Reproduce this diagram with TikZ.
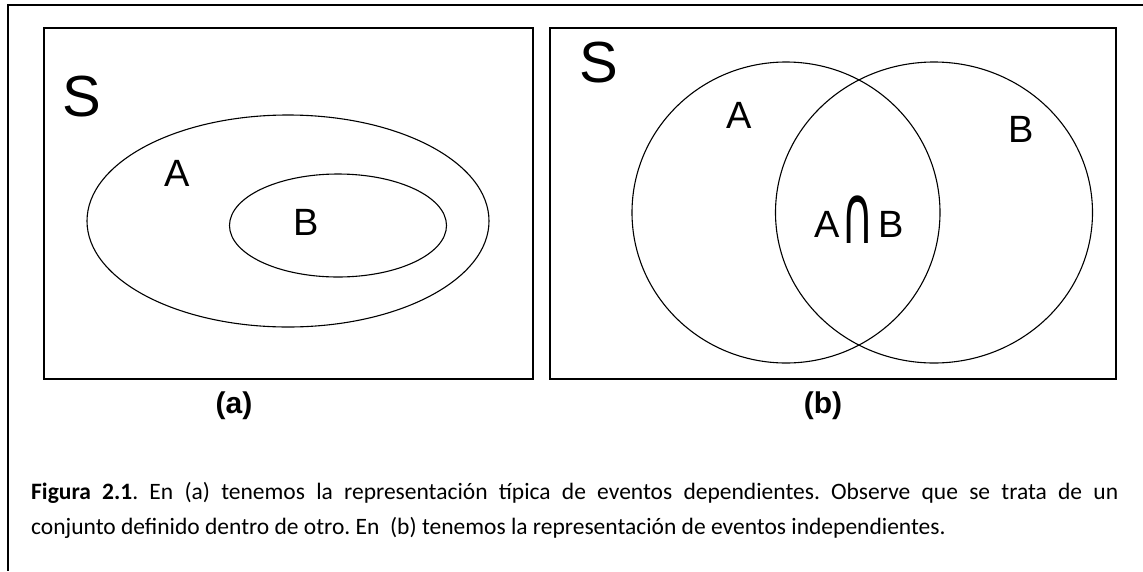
\documentclass[tikz,border=0pt]{standalone}
\usepackage{fontspec}
\usepackage{graphicx}
\setmainfont{Liberation Sans}
\newfontfamily\capfont{Carlito}
\newfontfamily\symfont{DejaVu Sans}
\begin{document}
\begin{tikzpicture}[x=1pt,y=-1pt,
  frame/.style={line width=1.4pt,black},
  setline/.style={line width=1.1pt,black},
  bigS/.style={font=\fontsize{58}{60}\selectfont,inner sep=0},
  setlbl/.style={font=\fontsize{38}{40}\selectfont,inner sep=0},
  sublbl/.style={font=\bfseries\fontsize{30}{32}\selectfont,inner sep=0},
  captext/.style={anchor=north west,inner sep=0,text width=1087pt,align=justify,
     font=\capfont\fontsize{23.5}{35}\selectfont\frenchspacing}]
\useasboundingbox (0,0) rectangle (1143,571);
% outer frame (top and left only)
\coordinate (ftr) at (1143,5);
\coordinate (ftl) at (8,5);
\coordinate (fbl) at (8,571);
\draw[frame] (ftr) -- (ftl) -- (fbl);
% panel (a)
\draw[frame] (44,28) rectangle (533,379);
\node[bigS] (Sa) at (82,97) {S};
\draw[setline] (288,221) ellipse [x radius=201, y radius=106];
\draw[setline] (338,225.5) ellipse [x radius=108.5, y radius=51.5];
\node[setlbl] (Aa) at (177,173) {A};
\node[setlbl] (Ba) at (306,222) {B};
\node[sublbl] (la) at (234,406) {(a)};
% panel (b)
\draw[frame] (550,28) rectangle (1116,379);
\node[bigS] (Sb) at (599,63) {S};
\draw[setline] (786,212.5) ellipse [x radius=154, y radius=150.5];
\draw[setline] (934,212.5) ellipse [x radius=158.5, y radius=150.5];
\node[setlbl] (Ab) at (739,115) {A};
\node[setlbl] (Bb) at (1021,129) {B};
\node[setlbl,anchor=base] (ABb) at (859,237) {A\hspace{1.5pt}\raisebox{-6pt}{\scalebox{1}[1.85]{\fontsize{44.5}{45}\symfont ∩}}\hspace{4.5pt}B};
\node[sublbl] (lb) at (823,406) {(b)};
% caption
\node[captext] (cap) at (31,482.5) {\textbf{Figura 2.1}. En (a) tenemos la representación típica de eventos dependientes. Observe que se trata de un\linebreak conjunto definido dentro de otro. En\ \ (b) tenemos la representación de eventos independientes.};
\end{tikzpicture}
\end{document}
